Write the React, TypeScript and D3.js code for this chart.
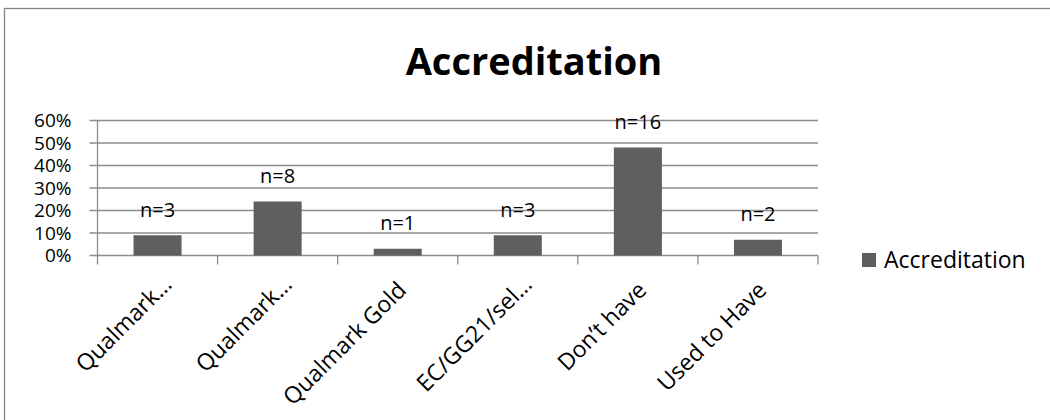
import { scaleBand, scaleLinear } from "d3";

// Chart data
const categories = [
  "Qualmark…",
  "Qualmark…",
  "Qualmark Gold",
  "EC/GG21/sel…",
  "Don’t have",
  "Used to Have",
];
const shares = [0.09, 0.24, 0.03, 0.09, 0.48, 0.07];
const counts = [3, 8, 1, 3, 16, 2];
const yTicks = [0, 0.1, 0.2, 0.3, 0.4, 0.5, 0.6];
const seriesName = "Accreditation";
const chartTitle = "Accreditation";

const WIDTH = 1050;
const HEIGHT = 420;
const margin = { left: 97.5, right: 232, top: 120.5, bottom: 164.5 };
const font = "'Open Sans', Lato, sans-serif";

const barColor = "#5f5f5f";
const gridColor = "#8c8c8c";

export default function App() {
  const x = scaleBand<number>()
    .domain(categories.map((_, i) => i))
    .range([margin.left, WIDTH - margin.right])
    .paddingInner(0.6)
    .paddingOuter(0.3);

  const y = scaleLinear()
    .domain([0, 0.6])
    .range([HEIGHT - margin.bottom, margin.top]);

  const x0 = margin.left;
  const x1 = WIDTH - margin.right;
  const yBase = y(0);
  const step = x.step();

  return (
    <div style={{ position: "fixed", left: 0, top: 0 }}>
      <svg width={WIDTH} height={HEIGHT} style={{ display: "block", background: "#fff" }} fontFamily={font}>
        {/* outer chart frame (extends past the picture) */}
        <rect x={4.5} y={8.5} width={1100} height={500} fill="#fff" stroke="#868686" strokeWidth={1.3} />

        <text x={534} y={75} textAnchor="middle" fontSize={38} fontWeight={700} fill="#000">
          {chartTitle}
        </text>

        {/* grid lines + y ticks */}
        {yTicks.map((t) => (
          <g key={`g-${t}`}>
            <line x1={x0 - 8} x2={x1} y1={y(t)} y2={y(t)} stroke={gridColor} strokeWidth={1.3} />
            <text
              x={71.5}
              y={y(t)}
              dy="0.36em"
              textAnchor="end"
              fontSize={19}
              fill="#000"
            >
              {`${Math.round(t * 100)}%`}
            </text>
          </g>
        ))}

        {/* y axis line */}
        <line x1={x0} x2={x0} y1={y(0.6)} y2={yBase} stroke={gridColor} strokeWidth={1.3} />

        {/* x category ticks */}
        {categories.map((_, i) => (
          <line
            key={`xt-${i}`}
            x1={x0 + i * step}
            x2={x0 + i * step}
            y1={yBase}
            y2={yBase + 9}
            stroke={gridColor}
            strokeWidth={1.3}
          />
        ))}
        <line x1={x1} x2={x1} y1={yBase} y2={yBase + 9} stroke={gridColor} strokeWidth={1.3} />

        {/* bars */}
        {shares.map((v, i) => (
          <rect
            key={`bar-${i}`}
            x={x(i)}
            y={y(v)}
            width={x.bandwidth()}
            height={yBase - y(v)}
            fill={barColor}
          />
        ))}

        {/* n= labels */}
        {shares.map((v, i) => (
          <text
            key={`lbl-${i}`}
            x={(x(i) ?? 0) + x.bandwidth() / 2}
            y={y(v) - 18.5}
            textAnchor="middle"
            fontSize={20}
            fill="#000"
          >
            {`n=${counts[i]}`}
          </text>
        ))}

        {/* category labels, rotated */}
        {categories.map((c, i) => {
          const cx = (x(i) ?? 0) + x.bandwidth() / 2;
          const truncated = c.endsWith("…");
          return (
            <text
              key={`cat-${i}`}
              transform={`translate(${cx + 10},${yBase + 36}) rotate(-45)`}
              dx={truncated ? 8 : 0}
              textAnchor="end"
              fontSize={23}
              fill="#000"
            >
              {c}
            </text>
          );
        })}

        {/* legend */}
        <rect x={862} y={253} width={14} height={14} fill={barColor} />
        <text x={884} y={267.5} fontSize={23} fill="#000">
          {seriesName}
        </text>
      </svg>
    </div>
  );
}
